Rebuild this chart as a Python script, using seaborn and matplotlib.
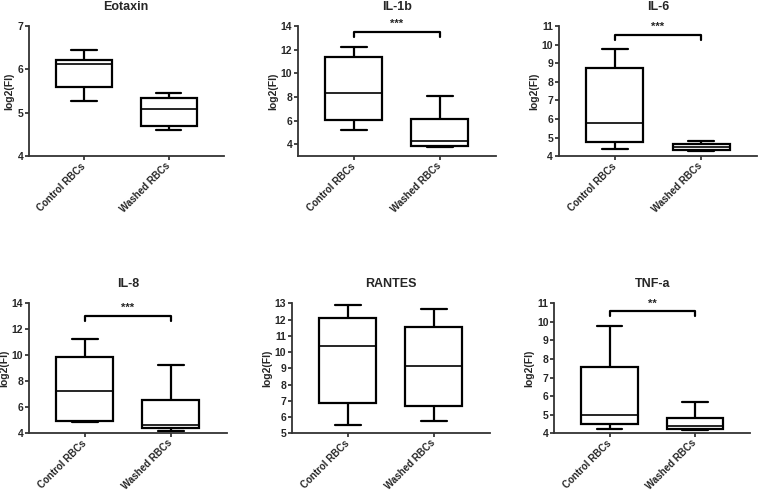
import numpy as np
import pandas as pd
import matplotlib
matplotlib.use("Agg")
import matplotlib.pyplot as plt
import seaborn as sns

# grupos
grupos = ["Control RBCs", "Washed RBCs"]

# cada caja: [min, Q1, mediana, Q3, max]
eotaxin_ctrl = [5.28, 5.60, 6.13, 6.22, 6.45]
eotaxin_wash = [4.60, 4.69, 5.08, 5.34, 5.45]

il1b_ctrl = [5.21, 6.05, 8.38, 11.42, 12.26]
il1b_wash = [3.80, 3.88, 4.27, 6.16, 8.10]

il6_ctrl = [4.38, 4.74, 5.80, 8.77, 9.76]
il6_wash = [4.27, 4.31, 4.47, 4.63, 4.82]

il8_ctrl = [4.83, 4.91, 7.22, 9.84, 11.28]
il8_wash = [4.20, 4.37, 4.67, 6.53, 9.28]

rantes_ctrl = [5.51, 6.89, 10.40, 12.11, 12.92]
rantes_wash = [5.73, 6.67, 9.12, 11.56, 12.68]

tnfa_ctrl = [4.22, 4.50, 5.00, 7.56, 9.79]
tnfa_wash = [4.20, 4.24, 4.37, 4.80, 5.69]

titulos = ["Eotaxin", "IL-1b", "IL-6", "IL-8", "RANTES", "TNF-a"]
datos = [(eotaxin_ctrl, eotaxin_wash), (il1b_ctrl, il1b_wash), (il6_ctrl, il6_wash),
         (il8_ctrl, il8_wash), (rantes_ctrl, rantes_wash), (tnfa_ctrl, tnfa_wash)]

# limites y ticks del eje y
y_lims = [(4, 7), (3, 14), (4, 11), (4, 14), (5, 13), (4, 11)]
y_ticks = [[4, 5, 6, 7], [4, 6, 8, 10, 12, 14], [4, 5, 6, 7, 8, 9, 10, 11],
           [4, 6, 8, 10, 12, 14], [5, 6, 7, 8, 9, 10, 11, 12, 13], [4, 5, 6, 7, 8, 9, 10, 11]]

# significancia: (texto, y barra, y extremos)
signif = [None, ("***", 13.5, 13.1), ("***", 10.52, 10.25),
          ("***", 13.03, 12.65), None, ("**", 10.57, 10.3)]

sns.set_style("ticks")
plt.rcParams['font.family'] = ['Liberation Sans', 'DejaVu Sans']
plt.rcParams['font.weight'] = 'bold'

fig = plt.figure(figsize=(7.58, 4.94), dpi=100)

# posiciones de los ejes (fraccion de figura)
posiciones = [[0.038, 0.684, 0.257, 0.263], [0.393, 0.684, 0.261, 0.263], [0.737, 0.684, 0.262, 0.263],
              [0.038, 0.123, 0.261, 0.263], [0.385, 0.123, 0.261, 0.263], [0.731, 0.123, 0.259, 0.263]]

for i in range(6):
    ax = fig.add_axes(posiciones[i])
    ctrl, wash = datos[i]
    df = pd.DataFrame({"grupo": [grupos[0]] * len(ctrl) + [grupos[1]] * len(wash),
                       "valor": ctrl + wash})
    sns.boxplot(data=df, x="grupo", y="valor", ax=ax, color="white", linecolor="black",
                linewidth=1.6, width=0.66, whis=(0, 100), showfliers=False,
                medianprops={"linewidth": 1.2}, capwidths=0.3)
    ax.set_xlim(-0.65, 1.65)
    ax.set_ylim(*y_lims[i])
    ax.set_yticks(y_ticks[i])
    ax.set_title(titulos[i], fontsize=9, fontweight='bold', pad=12)
    ax.set_ylabel("log2(FI)", fontsize=7.5, fontweight='bold', labelpad=2)
    ax.set_xlabel("")
    ax.set_xticks([0, 1])
    ax.set_xticklabels(grupos, rotation=45, ha='right', va='center', rotation_mode='anchor',
                       fontsize=7, fontweight='bold')
    ax.tick_params(axis='y', labelsize=7.5, length=3, width=1.2, pad=1)
    ax.tick_params(axis='x', length=3, width=1.2, pad=3)
    sns.despine(ax=ax)
    for s in ["left", "bottom"]:
        ax.spines[s].set_linewidth(1.3)
        ax.spines[s].set_color("#333333")

    if signif[i] is not None:
        txt, yb, ye = signif[i]
        ax.plot([0, 0, 1, 1], [ye, yb, yb, ye], color="black", lw=1.6, clip_on=False)
        ax.annotate(txt, xy=(0.5, yb), xytext=(0, 2), textcoords='offset points',
                    ha='center', va='bottom', fontsize=8, fontweight='bold')

fig.savefig("out.png", dpi=100)
